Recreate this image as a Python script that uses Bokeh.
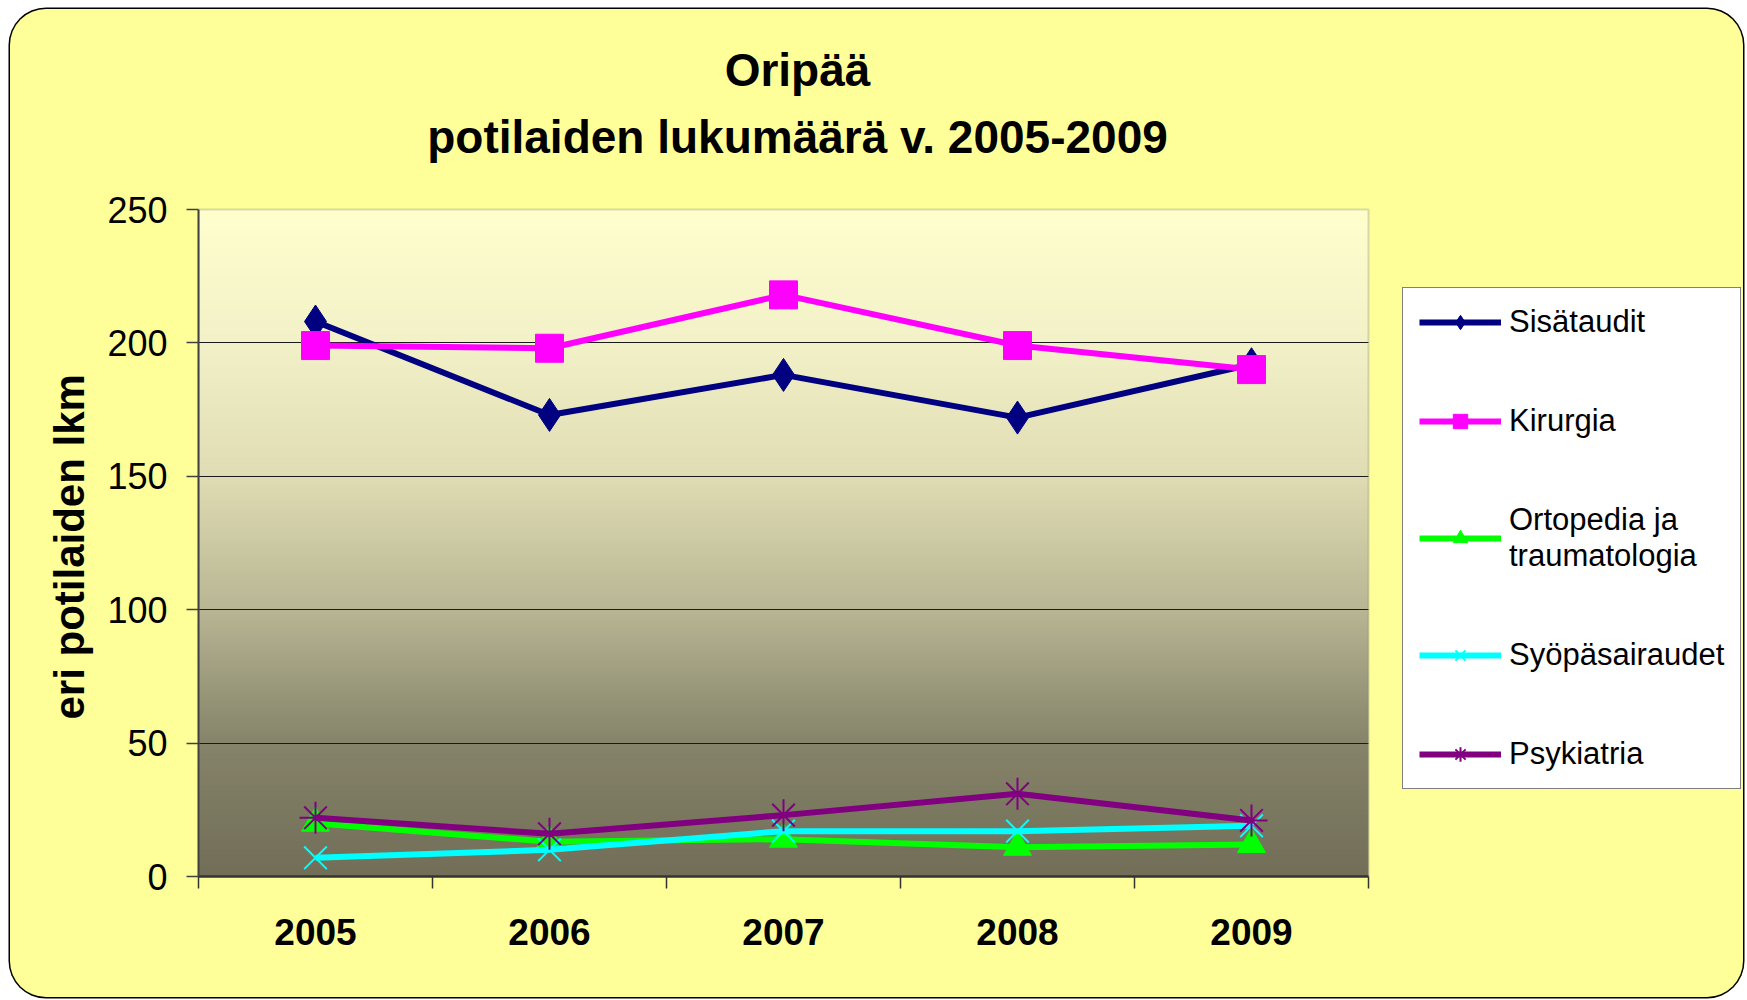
import numpy as np
from bokeh.plotting import figure
from bokeh.models import (Legend, LegendItem, Label, FixedTicker, Range1d,
                          BoxAnnotation, Title)
from bokeh.embed import file_html
from bokeh.resources import INLINE

# ---- data ----
years = ["2005", "2006", "2007", "2008", "2009"]
sisataudit = [208, 173, 188, 172, 192]
kirurgia = [199, 198, 218, 199, 190]
ortopedia = [20, 13, 14, 11, 12]
syopa = [7, 10, 17, 17, 19]
psykiatria = [22, 16, 23, 31, 21]
y_ticks = [0, 50, 100, 150, 200, 250]
y_max = 250

series_names = ["Sisätaudit", "Kirurgia", "Ortopedia ja\ntraumatologia",
                "Syöpäsairaudet", "Psykiatria"]
series_values = [sisataudit, kirurgia, ortopedia, syopa, psykiatria]
series_colors = ["#000080", "#FF00FF", "#00FF00", "#00FFFF", "#800080"]
series_markers = ["diamond", "square", "triangle", "x", "asterisk"]
marker_sizes = [33, 28, 28, 32, 32]
marker_lw = [1, 1, 1, 2, 2]

FONT = "Liberation Sans"

n = len(years)
xs = [i + 0.5 for i in range(n)]

# layout (pixels): plot area 1170 x 667, frame extended right/up to hold
# the legend and the title without clipping
W, H = 1733, 988
LEFT, BOTTOM = 188, 121
AREA_W, AREA_H = 1170, 667
frame_w = W - LEFT
frame_h = H - BOTTOM
x_end = n * frame_w / AREA_W
y_end = y_max * frame_h / AREA_H

p = figure(width=W, height=H, output_backend="svg", toolbar_location=None,
           title=None, x_range=Range1d(0, x_end), y_range=Range1d(0, y_end),
           min_border_left=LEFT, min_border_right=0, min_border_top=0,
           min_border_bottom=BOTTOM)
p.styles = {"background-color": "#FFFF99", "box-shadow": "0 0 0 1.5px #000000",
            "border-radius": "36px", "overflow": "hidden",
            "margin-left": "10px", "margin-top": "9px"}
p.border_fill_color = None
p.background_fill_color = None
p.outline_line_color = None

# gradient background of the plot area (style only)
stops_v = [0, 50, 100, 150, 200, 250]
stops_c = [(114, 110, 88), (134, 132, 106), (184, 182, 148), (224, 221, 180),
           (243, 241, 200), (255, 255, 206)]
N = 250
rows = np.linspace(0, y_max, N)
img = np.empty((N, 1), dtype=np.uint32)
view = img.view(dtype=np.uint8).reshape((N, 1, 4))
for k in range(3):
    view[:, 0, k] = np.interp(rows, stops_v, [c[k] for c in stops_c]).astype(np.uint8)
view[:, 0, 3] = 255
p.image_rgba(image=[img], x=0, y=0, dw=n, dh=y_max, level="image")

# plot-area border
p.add_layout(BoxAnnotation(left=0, right=n, bottom=0, top=y_max,
                           fill_alpha=0, line_color="#808080", line_width=2,
                           level="underlay"))

# grid (limited to the plot area)
grid_ticks = y_ticks[1:-1]
p.xgrid.grid_line_color = None
ygrid = p.ygrid[0]
if "cross_bounds" in ygrid.properties():
    ygrid.ticker = FixedTicker(ticks=grid_ticks)
    ygrid.grid_line_color = "#1a1a1a"
    ygrid.grid_line_width = 1.2
    ygrid.cross_bounds = (0, n)
    ygrid.level = "underlay"
else:
    ygrid.grid_line_color = None
    p.segment(x0=[0] * len(grid_ticks), x1=[n] * len(grid_ticks),
              y0=grid_ticks, y1=grid_ticks, line_color="#1a1a1a",
              line_width=1.2, level="underlay")

# y axis
p.yaxis.ticker = FixedTicker(ticks=y_ticks)
p.yaxis.bounds = (0, y_max)
p.yaxis.axis_line_color = "#404040"
p.yaxis.axis_line_width = 2
p.yaxis.major_tick_line_color = "#404040"
p.yaxis.major_tick_line_width = 1.5
p.yaxis.major_tick_out = 12
p.yaxis.major_tick_in = 0
p.yaxis.minor_tick_line_color = None
p.yaxis.major_label_text_font = FONT
p.yaxis.major_label_text_font_size = "36px"
p.yaxis.major_label_text_color = "#000000"
p.yaxis.major_label_standoff = 19

# y axis title (placed along the plot area, not the extended frame)
p.add_layout(Title(text="eri potilaiden lkm", align="left", offset=157,
                   standoff=24, text_font=FONT, text_font_size="42px",
                   text_font_style="bold", text_color="#000000"), "left")

# x axis
p.xaxis.ticker = FixedTicker(ticks=xs, minor_ticks=list(range(n + 1)))
p.xaxis.bounds = (0, n)
p.xaxis.major_label_overrides = {x: y for x, y in zip(xs, years)}
p.xaxis.axis_line_color = "#333333"
p.xaxis.axis_line_width = 2.5
p.xaxis.major_tick_line_color = None
p.xaxis.major_tick_out = 0
p.xaxis.major_tick_in = 0
p.xaxis.minor_tick_line_color = "#333333"
p.xaxis.minor_tick_line_width = 1.5
p.xaxis.minor_tick_out = 12
p.xaxis.minor_tick_in = 0
p.xaxis.major_label_text_font = FONT
p.xaxis.major_label_text_font_size = "37px"
p.xaxis.major_label_text_font_style = "bold"
p.xaxis.major_label_text_color = "#000000"
p.xaxis.major_label_standoff = 30

# series
items = []
for name, vals, col, mk, ms, mlw in zip(series_names, series_values, series_colors,
                                         series_markers, marker_sizes, marker_lw):
    lr = p.line(xs, vals, line_color=col, line_width=6)
    sr = p.scatter(xs, vals, marker=mk, size=ms, fill_color=col, line_color=col,
                   line_width=mlw)
    items.append(LegendItem(label=name, renderers=[lr, sr]))

legend = Legend(items=items, location=(1204, 87), orientation="vertical",
                label_text_font=FONT, label_text_font_size="31px",
                label_text_color="#000000",
                glyph_width=82, glyph_height=36, label_height=36,
                label_standoff=8, padding=16, spacing=63, margin=0,
                border_line_color="#000000", border_line_width=1,
                background_fill_color="#FFFFFF", background_fill_alpha=1.0)
p.add_layout(legend, "center")

# title (two lines)
p.add_layout(Label(x=599, y=807, x_units="screen", y_units="screen",
                   text="Oripää", text_align="center", text_baseline="middle",
                   text_font=FONT, text_font_size="46px", text_font_style="bold",
                   text_color="#000000"))
p.add_layout(Label(x=599, y=740, x_units="screen", y_units="screen",
                   text="potilaiden lukumäärä v. 2005-2009", text_align="center",
                   text_baseline="middle", text_font=FONT, text_font_size="46px",
                   text_font_style="bold", text_color="#000000"))

open("out.html", "w").write(file_html(p, INLINE))
